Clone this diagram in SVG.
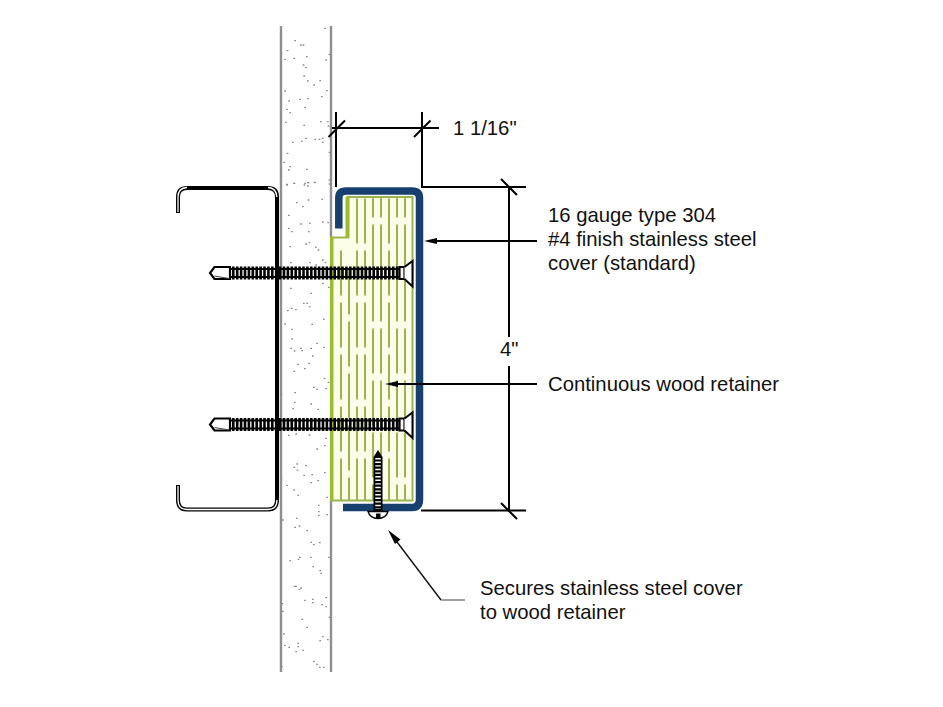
<svg xmlns="http://www.w3.org/2000/svg" width="943" height="707" viewBox="0 0 943 707">
<style>
.wall{stroke:#8f8f8f;stroke-width:2.4;fill:none}
.dots{fill:none;stroke:#8a8a8a;stroke-width:4;stroke-linecap:square}
.grainA{stroke:#9ab54f;stroke-width:2;stroke-dasharray:45 7}
.grainB{stroke:#9ab54f;stroke-width:2;stroke-dasharray:45 7;stroke-dashoffset:24.500}
.bk{stroke:#000;fill:none;stroke-width:2}
.thin{stroke:#111;fill:none;stroke-width:1.4}
text{font-family:"Liberation Sans",Arial,sans-serif;font-size:20.300px;fill:#111}
</style>
<defs>
<g id="longscrew">
<path d="M232 0H400" stroke="#000" stroke-width="13" stroke-dasharray="2.600 1.300" fill="none"/>
<path d="M231 -4H400M231 4H400" stroke="#000" stroke-width="1.800" fill="none"/>
<path d="M214.500 -6H230V6H214.500L210 0Z" fill="#fff" stroke="#000" stroke-width="2.200"/>
<path d="M214.500 3L229 5.500" stroke="#444" stroke-width="1" fill="none"/>
<path d="M399.500 -6H404.500V6H399.500Z" fill="#fff" stroke="#000" stroke-width="2.200"/>
<path d="M404.500 -6L412.500 -12V13.500L404.500 6" fill="#fff" stroke="#000" stroke-width="2"/>
</g>
</defs>
<rect width="943" height="707" fill="#fff"/>

<g id="wall">
<path class="wall" d="M281 26V672M331 26V237M331 501V672"/>
<g class="dots">
<path transform="translate(270 20) scale(.3333)" d="M75 62h1M92 75h1M100 75h1M52 92h1M45 118h1M72 115h1M110 110h1M168 120h1M178 103h1M165 25h1M100 135h1M108 143h1M102 168h1M113 183h1M150 182h1M132 195h1M170 212h1M45 213h1M155 230h1M57 243h1M90 238h1M113 236h1M105 262h1M50 268h1M60 278h1M47 307h1M152 305h1M173 305h1M175 318h1M102 316h1M108 355h1M95 364h1M68 367h1M135 358h1M148 358h1M158 355h1M158 367h1M52 400h1M178 397h1M42 427h1M60 440h1M56 450h1M110 448h1M50 493h1M72 490h1M105 490h1M115 488h1M135 487h1M178 480h1M178 492h1"/>
<path transform="translate(276 180) scale(.3333)" d="M33 15h1M55 10h1M85 15h1M95 8h1M95 18h1M115 8h1M62 68h1M97 60h1M138 58h1M80 80h1M38 106h1M75 132h1M101 130h1M140 126h1M156 128h1M38 145h1M47 155h1M98 155h1M42 200h1M90 192h1M100 188h1M119 202h1M127 210h1M44 248h1M102 248h1M120 255h1M140 240h1M148 248h1M140 310h1M44 325h1M158 322h1M105 340h1M83 370h1M93 370h1M101 380h1M35 392h1M47 385h1M59 389h1M27 432h1M143 418h1M108 433h1M47 448h1M48 477h1M123 490h1M143 502h1M45 505h1M75 505h1M105 505h1"/>
<path transform="translate(276 350) scale(.3333)" d="M55 3h1M78 2h1M110 18h1M66 43h1M99 40h1M86 56h1M54 64h1M145 85h1M157 97h1M113 112h1M123 118h1M150 115h1M57 128h1M16 133h1M56 157h1M105 162h1M51 176h1M126 178h1M38 256h1M60 252h1M100 255h1M150 265h1M146 287h1M123 297h1M63 342h1M54 352h1M90 347h1M64 361h1M84 376h1M108 374h1M16 385h1M126 392h1M105 398h1M146 368h1M32 406h1M54 420h1M66 436h1M153 442h1M128 466h1M14 470h1"/>
<path transform="translate(276 510) scale(.3333)" d="M128 5h1M153 14h1M128 16h1M62 25h1M20 30h1M57 52h1M70 48h1M93 62h1M105 97h1M113 104h1M131 98h1M42 152h1M67 148h1M71 142h1M104 142h1M158 142h1M111 170h1M132 182h1M135 190h1M55 229h1M60 229h1M70 238h1M75 234h1M86 271h1M110 268h1M110 278h1M150 263h1M138 284h1M150 290h1M18 281h1M20 304h1M78 328h1M93 352h1M160 322h1M23 372h1M140 380h1M132 392h1M155 389h1M26 406h1M39 412h1M66 400h1M66 410h1M60 425h1M81 421h1M113 454h1M122 463h1M131 472h1M143 472h1M17 470h1"/>
</g>
</g>

<g id="channel">
<path d="M178 213V197Q178 188 187 188H268Q277 188 277 197V500Q277 509.500 268 509.500H187Q178 509.500 178 500V485" fill="none" stroke="#000" stroke-width="4"/>
<path d="M178 212V197Q178 188 187 187.500M268 187.500Q276.500 188 276.800 197M277 500Q277 509.500 268 509.500H187Q178 509.500 178 500V486" fill="none" stroke="#fff" stroke-width="1.300"/>
</g>

<g id="wood-retainer">
<path d="M331.500 237.500H347.500V197H412.500V500.500H331.500Z" fill="#fdfee9" stroke="#9ab54f" stroke-width="2"/>
<path d="M331.700 237V501" stroke="#9bbb33" stroke-width="3.600" fill="none"/>
<path d="M347.500 197V238" stroke="#9bbb33" stroke-width="4" fill="none"/>
<path class="grainA" d="M341 250.500V500M357 198.500V500M365 198.500V500M389 198.500V500"/>
<path class="grainB" d="M373 197V500M381 197V500M397 197V500M405 197V500"/>
<path class="grainB" d="M349 269.500V500" style="stroke-dashoffset:0"/>
</g>

<g id="steel-cover">
<path d="M338.800 228.500V198Q338.800 191 346 191H412Q419.500 191 419.500 198V499.500Q419.500 507.500 412 507.500H343" fill="none" stroke="#17406f" stroke-width="7.500"/>
</g>

<g id="screw-upper"><use href="#longscrew" transform="translate(0 273)"/></g>
<g id="screw-lower"><use href="#longscrew" transform="translate(0 424.500)"/></g>

<g id="screw-bottom">
<path d="M373.500 457L378 450L382.500 457V511H373.500Z" fill="#000"/>
<path d="M378 458V509" fill="none" stroke="#fff" stroke-width="5.500" stroke-dasharray="1.400 2.200"/>
<path d="M368 511.500H388Q386 518.500 378 518.500Q370 518.500 368 511.500Z" fill="#fff" stroke="#000" stroke-width="1.300"/>
<path d="M376 513.500H380.500V518.500H376Z" fill="#000"/>
</g>

<g id="connectors">
<path class="bk" d="M336 112V187M422 112V187H526M332 128H439M421 510.500H526M509 187V337M509 366V510"/>
<path class="bk" stroke-width="2.600" d="M328.500 137L345 120.500M414 137L430.500 120.500M501 179L517 195M501 503L517 519"/>
<path class="bk" d="M432 241H537M395 384H537"/>
<path d="M424 241L437 238V244Z" fill="#000"/>
<path d="M385 384L398 381V387Z" fill="#000"/>
<path class="thin" d="M394 538L441 600"/>
<path d="M441 600H465" stroke="#777" stroke-width="1.400" fill="none"/>
<path d="M388 530L400.500 539.500L395 544Z" fill="#000"/>
</g>

<g id="labels">
<text x="453" y="135">1 1/16"</text>
<text x="548" y="222">16 gauge type 304</text>
<text x="548" y="246">#4 finish stainless steel</text>
<text x="548" y="270">cover (standard)</text>
<text x="500" y="356">4"</text>
<text x="548" y="391">Continuous wood retainer</text>
<text x="480" y="595">Secures stainless steel cover</text>
<text x="480" y="619">to wood retainer</text>
</g>
</svg>
